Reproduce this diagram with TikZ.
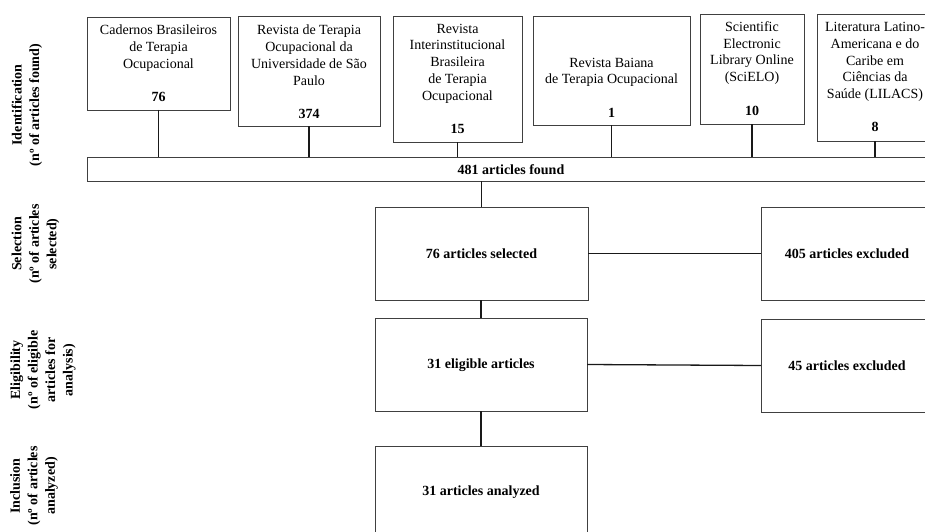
\documentclass[tikz,border=0pt]{standalone}
\usepackage{fontspec}
\setmainfont{Liberation Serif}
\newcommand{\fsrt}{\rule{0pt}{9.5pt}}
\begin{document}
\begin{tikzpicture}[x=1pt,y=-1pt,
  boxst/.style={draw=black!75, line width=0.9pt, inner sep=0pt, outer sep=0pt, fill=white},
  srctext/.style={font=\fontsize{14}{16.7}\selectfont, align=center, inner sep=0pt, anchor=north},
  boldtext/.style={font=\fontsize{14}{16.7}\selectfont\bfseries, inner sep=0pt},
  sidelabel/.style={font=\fontsize{14}{17.5}\selectfont\bfseries, align=center, rotate=90, inner sep=0pt},
  conn/.style={line width=1.3pt, black!90}]
\useasboundingbox (0,0) rectangle (925,532);
\clip (0,0) rectangle (925,532);

% side labels
\node[sidelabel] (lid) at (27,105) {Identification\\(nº of articles found)};
\node[sidelabel] (lsel) at (35.5,244) {Selection\\(nº of articles\\selected)};
\node[sidelabel] (lel) at (43,370) {Eligibility\\(nº of eligible\\articles for\\analysis)};
\node[sidelabel] (lin) at (34,486) {Inclusion\\(nº of articles\\analyzed)};

% source boxes
\node[boxst, minimum width=143, minimum height=93] (s1) at (158.5,63.5) {};
\node[boxst, minimum width=142, minimum height=110] (s2) at (309,71) {};
\node[boxst, minimum width=129, minimum height=126] (s3) at (457.5,79) {};
\node[boxst, minimum width=157, minimum height=109] (s4) at (611.5,70.5) {};
\node[boxst, minimum width=104, minimum height=110] (s5) at (752,69) {};
\node[boxst, minimum width=116, minimum height=127] (s6) at (875,77.5) {};

\node[srctext] (t1) at ([yshift=-8pt]s1.north) {\fsrt Cadernos Brasileiros\\de Terapia\\Ocupacional\\[16.7pt]\textbf{76}};
\node[srctext] (t2) at ([yshift=-9pt]s2.north) {\fsrt Revista de Terapia\\Ocupacional da\\Universidade de São\\Paulo\\[16.7pt]\textbf{374}};
\node[srctext] (t3) at ([yshift=-7.5pt]s3.north) {\fsrt Revista\\Interinstitucional\\Brasileira\\de Terapia\\Ocupacional\\[16.7pt]\textbf{15}};
\node[srctext] (t4) at ([yshift=-41.5pt]s4.north) {\fsrt Revista Baiana\\de Terapia Ocupacional\\[16.7pt]\textbf{1}};
\node[srctext] (t5) at ([yshift=-7.5pt]s5.north) {\fsrt Scientific\\Electronic\\Library Online\\(SciELO)\\[16.7pt]\textbf{10}};
\node[srctext] (t6) at ([yshift=-8pt]s6.north) {\fsrt Literatura Latino-\\Americana e do\\Caribe em\\Ciências da\\Saúde (LILACS)\\[16.7pt]\textbf{8}};

% total bar
\node[boxst, minimum width=848, minimum height=24] (bar) at (511,169) {};
\node[boldtext] (bart) at (511,170) {481 articles found};

\foreach \s in {s1,s2,s3,s4,s5,s6}
  \draw[conn] (\s.south) -- (\s.south |- bar.north);

% flow boxes
\node[boxst, minimum width=213, minimum height=93] (sel) at (481.5,253.5) {};
\node[boldtext] (selt) at (481.5,253.5) {76 articles selected};
\node[boxst, minimum width=172, minimum height=93] (ex1) at (847,253.5) {};
\node[boldtext] (ex1t) at (847,253.5) {405 articles excluded};
\node[boxst, minimum width=212, minimum height=93] (eli) at (481,364.5) {};
\node[boldtext] (elit) at (481,365) {31 eligible articles};
\node[boxst, minimum width=172, minimum height=93] (ex2) at (847,365.5) {};
\node[boldtext] (ex2t) at (847,366) {45 articles excluded};
\node[boxst, minimum width=212, minimum height=93] (ana) at (481,492.5) {};
\node[boldtext] (anat) at (481,492) {31 articles analyzed};

\draw[conn] (sel.north) -- (sel.north |- bar.south);
\draw[conn] (eli.north |- sel.south) -- (eli.north);
\draw[conn] (eli.south) -- (ana.north);
\draw[conn] (sel.east) -- (ex1.west);
\draw[conn] (eli.east) -- (ex2.west);
\end{tikzpicture}
\end{document}
